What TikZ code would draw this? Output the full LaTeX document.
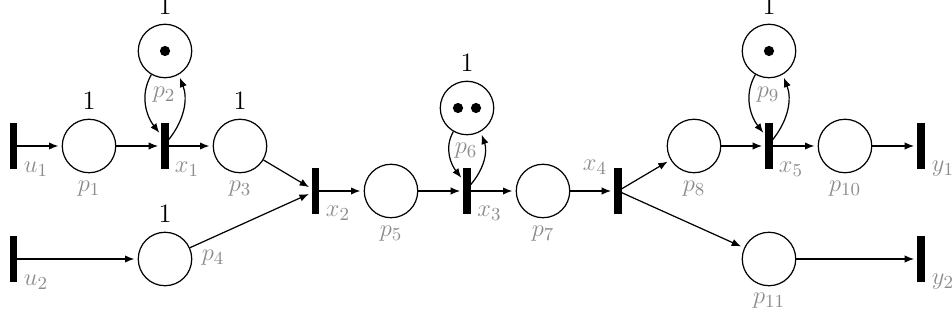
\documentclass[tikz,border=0pt]{standalone}
\usetikzlibrary{arrows.meta,calc}
\begin{document}
\begin{tikzpicture}[x=0.49pt,y=-0.49pt,
  every node/.append style={font=\fontsize{13pt}{15pt}\selectfont},
  place/.style={circle,draw,line width=0.6pt,minimum size=26.2pt,inner sep=0pt},
  trans/.style={rectangle,fill=black,minimum width=3.6pt,minimum height=22.3pt,inner sep=0pt,outer sep=0pt},
  tokdot/.style={circle,fill=black,minimum size=5pt,inner sep=0pt},
  captxt/.style={inner sep=0pt},
  glab/.style={text=black!45,inner sep=0pt},
  flow/.style={line width=0.6pt,-{Latex[length=4.6pt,width=3.6pt]},shorten >=1.6pt}]
\useasboundingbox (0,0) rectangle (952,322);
% transitions
\node[trans] (u1) at (13.5,146) {};
\node[trans] (x1) at (165,146) {};
\node[trans] (u2) at (13.5,259) {};
\node[trans] (x2) at (315.5,191) {};
\node[trans] (x3) at (467,191) {};
\node[trans] (x4) at (618,191) {};
\node[trans] (x5) at (769,146) {};
\node[trans] (y1) at (921,146) {};
\node[trans] (y2) at (921,259) {};
% places
\node[place] (p1) at (89,146) {};
\node[place] (p2) at (165,51) {};
\node[place] (p3) at (240,146) {};
\node[place] (p4) at (165,259) {};
\node[place] (p5) at (391,191) {};
\node[place] (p6) at (467,108) {};
\node[place] (p7) at (543,191) {};
\node[place] (p8) at (694,146) {};
\node[place] (p9) at (769,51) {};
\node[place] (p10) at (845,146) {};
\node[place] (p11) at (769,259) {};
% tokens
\node[tokdot] (k2) at (p2) {};
\node[tokdot] (k6a) at (458,108) {};
\node[tokdot] (k6b) at (476,108) {};
\node[tokdot] (k9) at (p9) {};
% capacities
\node[captxt] (c1) at (89,101) {1};
\node[captxt] (c2) at (165,6) {1};
\node[captxt] (c3) at (240,101) {1};
\node[captxt] (c4) at (165,214) {1};
\node[captxt] (c6) at (467,63) {1};
\node[captxt] (c9) at (769,6) {1};
% place labels
\node[glab] (l1) at (89,189) {$p_1$};
\node[glab] (l2) at (164,95) {$p_2$};
\node[glab] (l3) at (240,189) {$p_3$};
\node[glab] (l4) at (213,258) {$p_4$};
\node[glab] (l5) at (391,234) {$p_5$};
\node[glab] (l6) at (466,151) {$p_6$};
\node[glab] (l7) at (543,234) {$p_7$};
\node[glab] (l8) at (694,189) {$p_8$};
\node[glab] (l9) at (768,95) {$p_9$};
\node[glab] (l10) at (845,189) {$p_{10}$};
\node[glab] (l11) at (769,301) {$p_{11}$};
% transition labels
\node[glab] (lu1) at (36,169) {$u_1$};
\node[glab] (lx1) at (187,169) {$x_1$};
\node[glab] (lu2) at (36,282) {$u_2$};
\node[glab] (lx2) at (338,213) {$x_2$};
\node[glab] (lx3) at (489.5,213) {$x_3$};
\node[glab] (lx4) at (595,167) {$x_4$};
\node[glab] (lx5) at (791,169) {$x_5$};
\node[glab] (ly1) at (943,169) {$y_1$};
\node[glab] (ly2) at (943,282) {$y_2$};
% arcs
\draw[flow] (u1) -- (p1);
\draw[flow] (p1) -- (x1);
\draw[flow] (x1) -- (p3);
\draw[flow] (p3) -- (x2);
\draw[flow] (u2) -- (p4);
\draw[flow] (p4) -- (x2);
\draw[flow] (x2) -- (p5);
\draw[flow] (p5) -- (x3);
\draw[flow] (x3) -- (p7);
\draw[flow] (p7) -- (x4);
\draw[flow] (x4) -- (p8);
\draw[flow] (x4) -- (p11);
\draw[flow] (p8) -- (x5);
\draw[flow] (x5) -- (p10);
\draw[flow] (p10) -- (y1);
\draw[flow] (p11) -- (y2);
% self loops
\draw[flow] (p2.240) to[out=240,in=128] ([yshift=5.2pt]x1.west);
\draw[flow] (x1) to[bend right=30] (p2);
\draw[flow] (p6.240) to[out=240,in=128] ([yshift=5.2pt]x3.west);
\draw[flow] (x3) to[bend right=30] (p6);
\draw[flow] (p9.240) to[out=240,in=128] ([yshift=5.2pt]x5.west);
\draw[flow] (x5) to[bend right=30] (p9);
\end{tikzpicture}
\end{document}
